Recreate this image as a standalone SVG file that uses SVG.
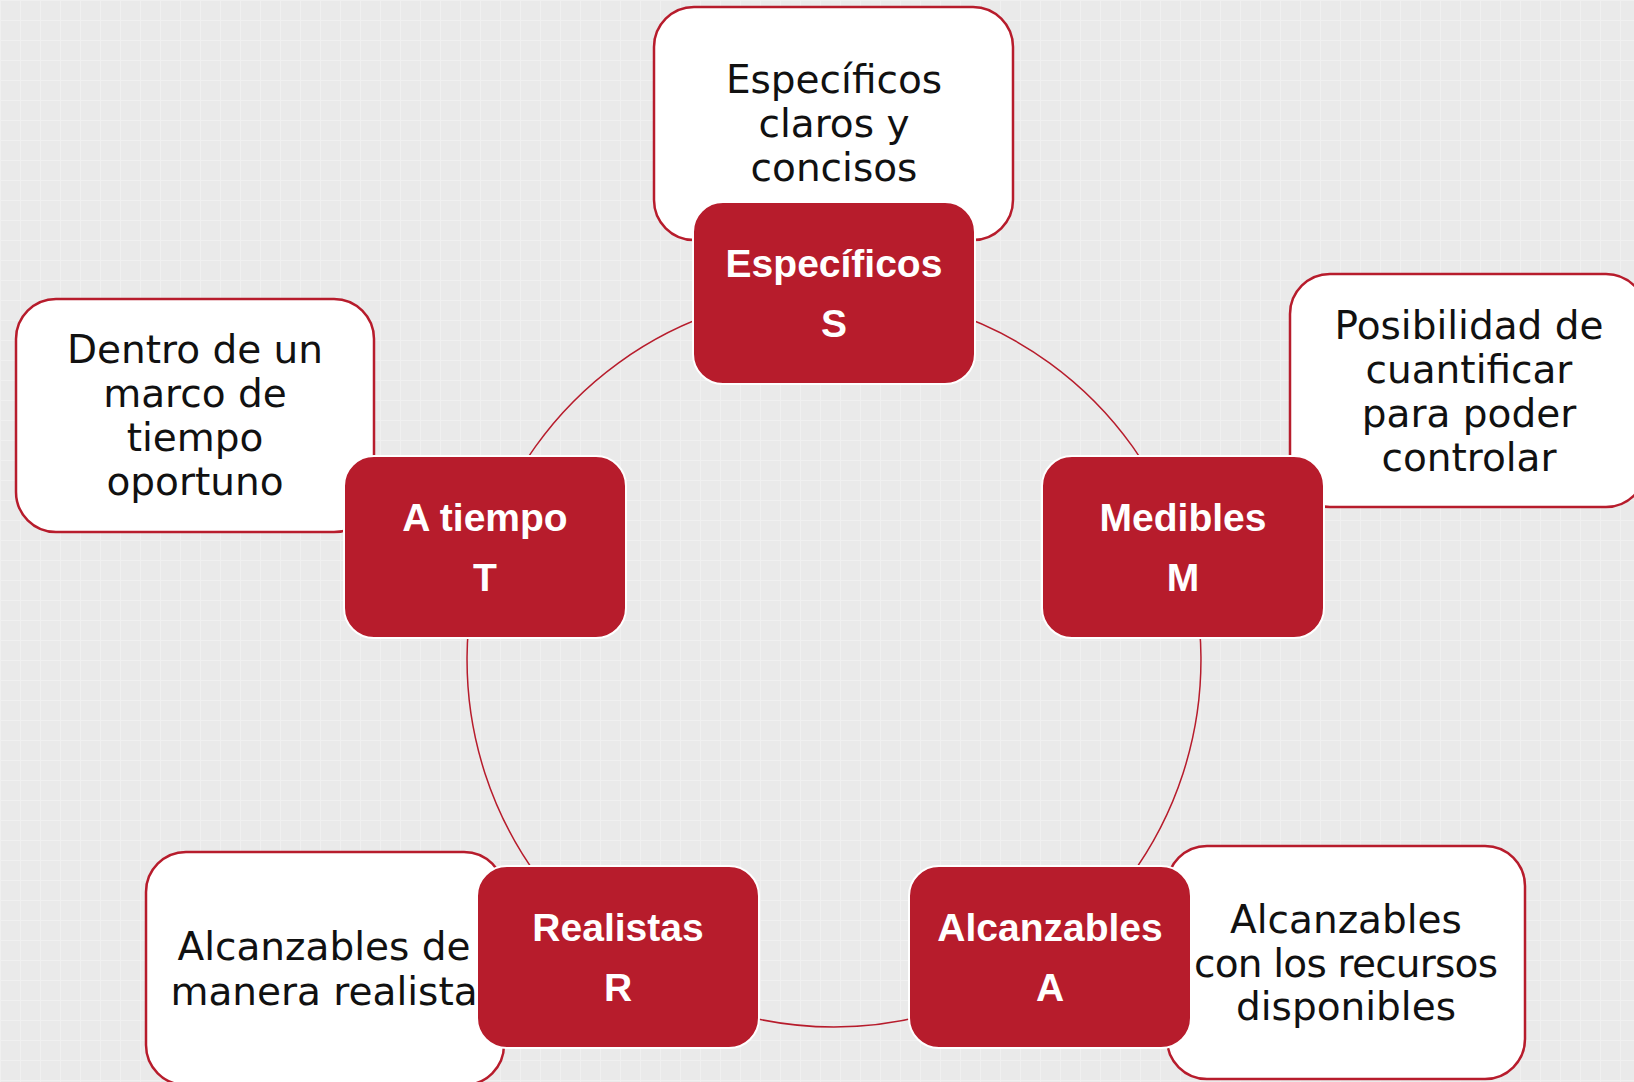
<svg xmlns="http://www.w3.org/2000/svg" width="1634" height="1082" viewBox="0 0 1634 1082">
<defs>
<pattern id="grid" width="20" height="20" patternUnits="userSpaceOnUse">
<rect width="20" height="20" fill="#EAEAEA"/>
<path d="M0 0.5 H20 M0.5 0 V20" stroke="#F0F0F0" stroke-width="1"/>
</pattern>
<style>
.desc{fill:#FFFFFF;stroke:#B71C2C;stroke-width:2.5}
.key{fill:#B71C2C;stroke:#FFFFFF;stroke-width:2}
.dt{font-family:"DejaVu Sans",sans-serif;font-size:39px;fill:#111111;text-anchor:middle}
.kt{font-family:"Liberation Sans",Arial,sans-serif;font-weight:bold;font-size:39px;fill:#FFFFFF;text-anchor:middle}
.arc{fill:none;stroke:#B71C2C;stroke-width:1.5}
</style>
</defs>
<rect width="1634" height="1082" fill="url(#grid)"/>
<g id="connectors">
<path class="arc" d="M834 293 A367 367 0 0 1 1183 546.6"/>
<path class="arc" d="M1183 546.6 A367 367 0 0 1 1049.7 956.9"/>
<path class="arc" d="M1049.7 956.9 A367 367 0 0 1 618.3 956.9"/>
<path class="arc" d="M618.3 956.9 A367 367 0 0 1 485 546.6"/>
<path class="arc" d="M485 546.6 A367 367 0 0 1 834 293"/>
</g>
<g id="desc-S">
<rect class="desc" x="654" y="7" width="359" height="233" rx="40"/>
<text class="dt" x="834" y="93">Específicos</text>
<text class="dt" x="834" y="137">claros y</text>
<text class="dt" x="834" y="181">concisos</text>
</g>
<g id="desc-M">
<rect class="desc" x="1290" y="274" width="356" height="233" rx="40"/>
<text class="dt" x="1469" y="339">Posibilidad de</text>
<text class="dt" x="1469" y="383">cuantificar</text>
<text class="dt" x="1469" y="427">para poder</text>
<text class="dt" x="1469" y="471">controlar</text>
</g>
<g id="desc-T">
<rect class="desc" x="16" y="299" width="358" height="233" rx="40"/>
<text class="dt" x="195" y="363">Dentro de un</text>
<text class="dt" x="195" y="407">marco de</text>
<text class="dt" x="195" y="451">tiempo</text>
<text class="dt" x="195" y="495">oportuno</text>
</g>
<g id="desc-R">
<rect class="desc" x="146" y="852" width="358" height="233" rx="40"/>
<text class="dt" x="324" y="960">Alcanzables de</text>
<text class="dt" x="324" y="1005">manera realista</text>
</g>
<g id="desc-A">
<rect class="desc" x="1167" y="846" width="358" height="233" rx="40"/>
<text class="dt" x="1346" y="933">Alcanzables</text>
<text class="dt" x="1346" y="977" textLength="304">con los recursos</text>
<text class="dt" x="1346" y="1020">disponibles</text>
</g>
<g id="node-S">
<rect class="key" x="693" y="202" width="282" height="182" rx="30"/>
<text class="kt" x="834" y="277">Específicos</text>
<text class="kt" x="834" y="337">S</text>
</g>
<g id="node-M">
<rect class="key" x="1042" y="456" width="282" height="182" rx="30"/>
<text class="kt" x="1183" y="531">Medibles</text>
<text class="kt" x="1183" y="591">M</text>
</g>
<g id="node-A">
<rect class="key" x="909" y="866" width="282" height="182" rx="30"/>
<text class="kt" x="1050" y="941">Alcanzables</text>
<text class="kt" x="1050" y="1001">A</text>
</g>
<g id="node-R">
<rect class="key" x="477" y="866" width="282" height="182" rx="30"/>
<text class="kt" x="618" y="941">Realistas</text>
<text class="kt" x="618" y="1001">R</text>
</g>
<g id="node-T">
<rect class="key" x="344" y="456" width="282" height="182" rx="30"/>
<text class="kt" x="485" y="531">A tiempo</text>
<text class="kt" x="485" y="591">T</text>
</g>
</svg>
